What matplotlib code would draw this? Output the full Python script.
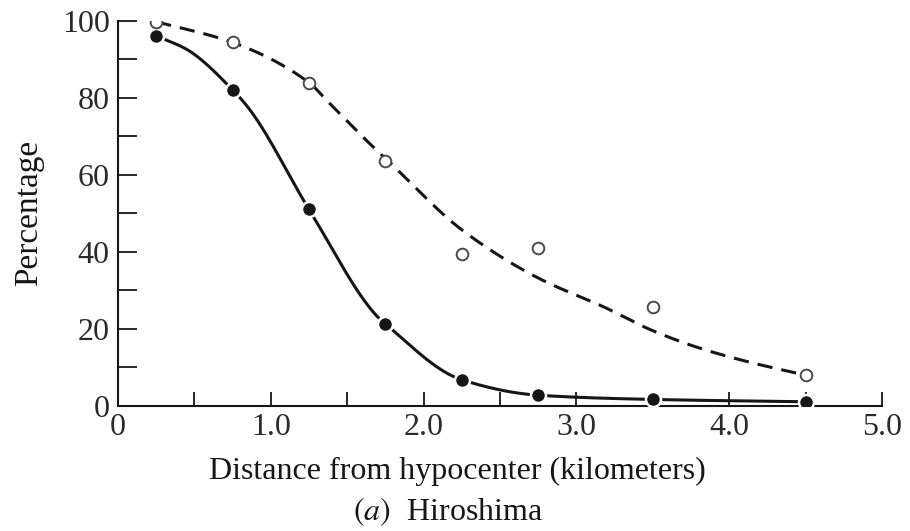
import numpy as np
import matplotlib
matplotlib.use("Agg")
import matplotlib.pyplot as plt
from matplotlib.ticker import MultipleLocator, FixedLocator, FixedFormatter

# Observed percentages at each distance band (km from hypocenter)
dist_filled = [0.25, 0.75, 1.25, 1.75, 2.25, 2.75, 3.5, 4.5]
pct_filled = [96.0, 82.0, 51.0, 21.3, 6.8, 2.8, 1.7, 1.1]

dist_open = [0.25, 0.75, 1.25, 1.75, 2.25, 2.75, 3.5, 4.5]
pct_open = [99.7, 94.3, 83.9, 63.6, 39.5, 41.0, 25.6, 8.0]

# Smoothed trend curves (knots of the hand-fitted lines)
solid_knot_x = [0.25, 0.45, 0.75, 0.86, 1.25, 1.69, 1.75, 2.25, 2.75, 3.5, 4.5]
solid_knot_y = [96.0, 92.5, 82.0, 77.0, 51.0, 23.5, 21.3, 6.8, 2.8, 1.7, 1.1]

dashed_knot_x = [0.25, 0.75, 1.25, 1.38, 1.62, 1.78, 2.25, 2.75, 3.19, 3.49, 3.80, 4.13, 4.5]
dashed_knot_y = [99.7, 94.3, 83.9, 78.7, 69.1, 63.1, 45.7, 33.2, 25.5, 19.7, 15.1, 11.4, 8.0]

x_ticklabels = ["0", "1.0", "2.0", "3.0", "4.0", "5.0"]
y_ticklabels = ["0", "20", "40", "60", "80", "100"]


def monotone_cubic(xk, yk, n=400):
    """Fritsch-Carlson monotone cubic through the given knots."""
    xk = np.asarray(xk, float)
    yk = np.asarray(yk, float)
    h = np.diff(xk)
    d = np.diff(yk) / h
    m = np.zeros_like(yk)
    m[0], m[-1] = d[0], d[-1]
    for i in range(1, len(xk) - 1):
        if d[i - 1] * d[i] <= 0:
            m[i] = 0.0
        else:
            w1 = 2 * h[i] + h[i - 1]
            w2 = h[i] + 2 * h[i - 1]
            m[i] = (w1 + w2) / (w1 / d[i - 1] + w2 / d[i])
    xs = np.linspace(xk[0], xk[-1], n)
    idx = np.clip(np.searchsorted(xk, xs) - 1, 0, len(xk) - 2)
    t = (xs - xk[idx]) / h[idx]
    h00 = 2 * t**3 - 3 * t**2 + 1
    h10 = t**3 - 2 * t**2 + t
    h01 = -2 * t**3 + 3 * t**2
    h11 = t**3 - t**2
    ys = (h00 * yk[idx] + h10 * h[idx] * m[idx]
          + h01 * yk[idx + 1] + h11 * h[idx] * m[idx + 1])
    return xs, ys


plt.rcParams["font.family"] = ["Liberation Serif", "DejaVu Serif"]
plt.rcParams["mathtext.fontset"] = "stix"
plt.rcParams["lines.scale_dashes"] = False

ink = "#161616"

fig = plt.figure(figsize=(9.10, 5.31), dpi=100)
ax = fig.add_axes([118 / 910, 125 / 531, 764 / 910, 385.5 / 531])

xs, ys = monotone_cubic(solid_knot_x, solid_knot_y)
ax.plot(xs, ys, color=ink, lw=2.2, solid_capstyle="butt", zorder=2)

xd, yd = monotone_cubic(dashed_knot_x, dashed_knot_y)
ax.plot(xd, yd, color=ink, lw=2.2, dashes=(11, 6.5), zorder=2)

ax.plot(dist_filled, pct_filled, ls="none", marker="o", ms=10.8,
        mfc=ink, mec="white", mew=1.8, zorder=4)
ax.plot(dist_open, pct_open, ls="none", marker="o", ms=8.4,
        mfc="white", mec="#4a4a4a", mew=1.4, zorder=4)

ax.set_xlim(0, 5.0)
ax.set_ylim(0, 100)

for side in ("top", "right"):
    ax.spines[side].set_visible(False)
for side in ("left", "bottom"):
    ax.spines[side].set_linewidth(1.5)
    ax.spines[side].set_color(ink)

ax.xaxis.set_major_locator(FixedLocator([0, 1, 2, 3, 4, 5]))
ax.xaxis.set_major_formatter(FixedFormatter(x_ticklabels))
ax.xaxis.set_minor_locator(MultipleLocator(0.5))
ax.yaxis.set_major_locator(FixedLocator([0, 20, 40, 60, 80, 100]))
ax.yaxis.set_major_formatter(FixedFormatter(y_ticklabels))
ax.yaxis.set_minor_locator(MultipleLocator(10))

ax.tick_params(axis="x", which="both", direction="in", length=10, width=1.3,
               color=ink, labelsize=23, labelcolor="#2a2a2a", pad=5)
ax.tick_params(axis="y", which="both", direction="in", length=14, width=1.3,
               color=ink, labelsize=23, labelcolor="#2a2a2a", pad=6)

ax.set_ylabel("Percentage", fontsize=24, color=ink, labelpad=13)

fig.text(457 / 910, 1 - 471 / 531, "Distance from hypocenter (kilometers)",
         ha="center", va="center", fontsize=23, color=ink)
fig.text(448 / 910, 1 - 512 / 531, r"$(a)$  Hiroshima",
         ha="center", va="center", fontsize=23, color=ink)

fig.savefig("out.png", dpi=100, facecolor="white")
